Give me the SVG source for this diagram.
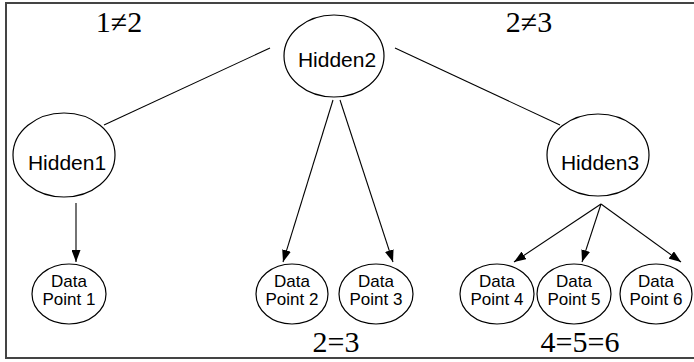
<svg xmlns="http://www.w3.org/2000/svg" width="694" height="362" viewBox="0 0 694 362">
<defs>
<marker id="arr" markerWidth="12" markerHeight="9" refX="12" refY="4.5" orient="auto" markerUnits="userSpaceOnUse" viewBox="0 0 12 9">
<path d="M0,0 L12,4.5 L0,9 z" fill="#000"/>
</marker>
<style>
.n{fill:#fff;stroke:#000;stroke-width:1.2}
.t{font-family:"Liberation Sans",Arial,sans-serif;fill:#000;text-anchor:middle}
.h{font-size:21px}
.d{font-size:17px}
.m{font-family:"Liberation Serif","Times New Roman",serif;font-size:30px;fill:#000;text-anchor:middle}
.e{stroke:#000;stroke-width:1.1;fill:none}
.a{marker-end:url(#arr)}
</style>
</defs>
<rect x="0" y="0" width="694" height="362" fill="#fff"/>
<rect x="6" y="3" width="700" height="355" fill="none" stroke="#444" stroke-width="2"/>
<g id="connectors">
<line class="e" x1="270" y1="48" x2="104" y2="125"/>
<line class="e" x1="395" y1="48" x2="560" y2="125"/>
<line class="e a" x1="333" y1="100" x2="283" y2="262"/>
<line class="e a" x1="340" y1="100" x2="393" y2="262"/>
<line class="e a" x1="76" y1="203" x2="76" y2="262"/>
<line class="e a" x1="601" y1="204" x2="514" y2="262"/>
<line class="e a" x1="601" y1="204" x2="582" y2="262"/>
<line class="e a" x1="601" y1="204" x2="681" y2="262"/>
</g>
<g id="hidden2"><ellipse class="n" cx="334" cy="56" rx="50" ry="41"/><text class="t h" x="337" y="67">Hidden2</text></g>
<g id="hidden1"><ellipse class="n" cx="64" cy="155" rx="51" ry="42"/><text class="t h" x="67" y="170">Hidden1</text></g>
<g id="hidden3"><ellipse class="n" cx="598" cy="155" rx="51" ry="41"/><text class="t h" x="600" y="170">Hidden3</text></g>
<g id="dp1"><ellipse class="n" cx="69" cy="294" rx="37" ry="30"/><text class="t d" x="69" y="287">Data</text><text class="t d" x="69" y="305">Point 1</text></g>
<g id="dp2"><ellipse class="n" cx="292" cy="294" rx="36" ry="30"/><text class="t d" x="292" y="287">Data</text><text class="t d" x="292" y="305">Point 2</text></g>
<g id="dp3"><ellipse class="n" cx="376" cy="294" rx="37" ry="30"/><text class="t d" x="376" y="287">Data</text><text class="t d" x="376" y="305">Point 3</text></g>
<g id="dp4"><ellipse class="n" cx="497" cy="294" rx="37" ry="30"/><text class="t d" x="497" y="287">Data</text><text class="t d" x="497" y="305">Point 4</text></g>
<g id="dp5"><ellipse class="n" cx="574" cy="294" rx="37" ry="30"/><text class="t d" x="574" y="287">Data</text><text class="t d" x="574" y="305">Point 5</text></g>
<g id="dp6"><ellipse class="n" cx="656" cy="294" rx="36" ry="30"/><text class="t d" x="656" y="287">Data</text><text class="t d" x="656" y="305">Point 6</text></g>
<g id="labels">
<text class="m" x="119" y="32">1≠2</text>
<text class="m" x="529" y="32">2≠3</text>
<text class="m" x="336" y="352">2=3</text>
<text class="m" x="580" y="352">4=5=6</text>
</g>
</svg>
